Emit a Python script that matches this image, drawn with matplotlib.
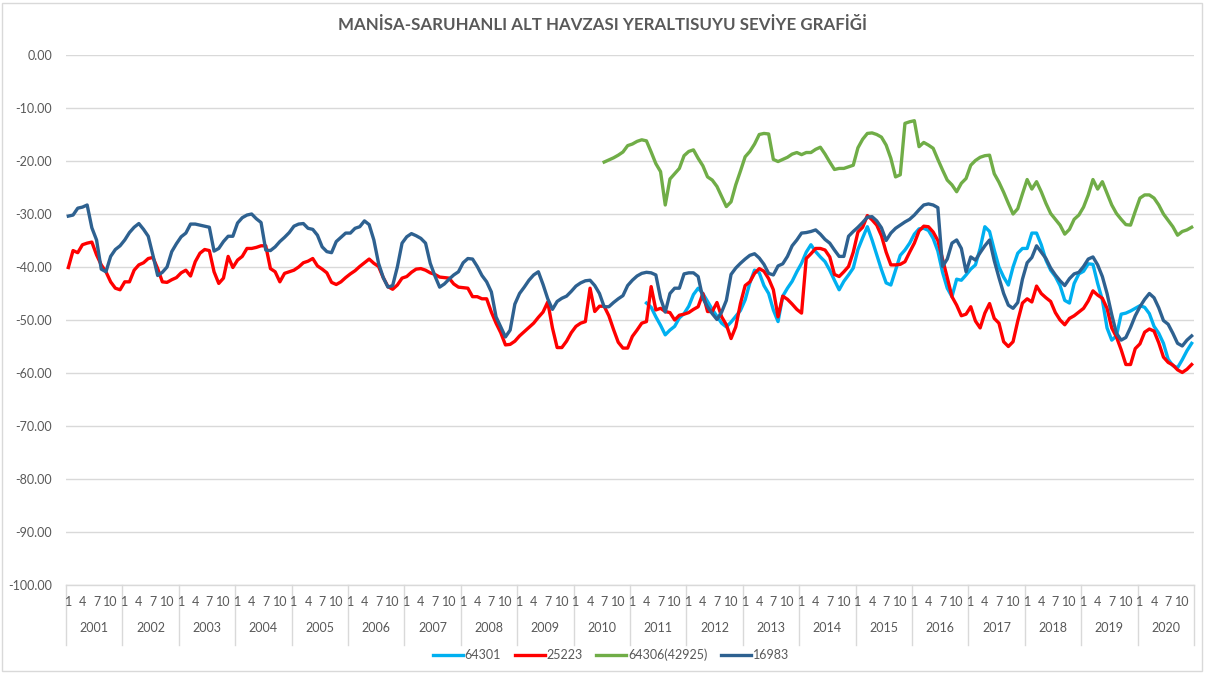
import numpy as np
import matplotlib
matplotlib.use("Agg")
import matplotlib.pyplot as plt
from matplotlib.patches import Rectangle
import matplotlib.transforms as mtransforms

plt.rcParams['font.family'] = ['Lato', 'DejaVu Sans']

title = "MANİSA-SARUHANLI ALT HAVZASI YERALTISUYU SEVİYE GRAFİĞİ"
years = list(range(2001, 2021))
month_ticks = [0, 3, 6, 9]
month_labels = ['1', '4', '7', '10']
y_ticks = [0, -10, -20, -30, -40, -50, -60, -70, -80, -90, -100]

# monthly levels, Jan 2001 .. Dec 2020
w16983 = [
    -30.4, -30.2, -28.9, -28.7, -28.3, -32.6, -34.9, -40.4, -40.9, -38.0, -36.7, -36.0,  # 2001
    -34.9, -33.5, -32.5, -31.8, -32.9, -34.2, -37.8, -41.6, -41.0, -40.0, -37.1, -35.6,  # 2002
    -34.3, -33.6, -31.9, -31.9, -32.1, -32.3, -32.5, -37.0, -36.5, -35.2, -34.2, -34.2,  # 2003
    -31.7, -30.7, -30.2, -30.0, -30.9, -31.6, -36.8, -36.9, -36.2, -35.2, -34.4, -33.5,  # 2004
    -32.3, -31.9, -31.8, -32.7, -32.9, -34.0, -36.2, -37.1, -37.3, -35.2, -34.4, -33.6,  # 2005
    -33.6, -32.7, -32.4, -31.3, -32.0, -34.9, -39.3, -42.0, -43.8, -43.5, -40.0, -35.5,  # 2006
    -34.3, -33.7, -34.1, -34.6, -35.5, -39.3, -41.7, -43.8, -43.2, -42.3, -41.5, -40.9,  # 2007
    -39.2, -38.4, -38.5, -39.9, -41.6, -42.8, -44.7, -49.4, -51.3, -53.2, -51.9, -47.0,  # 2008
    -45.0, -43.8, -42.5, -41.5, -40.9, -43.3, -46.0, -48.0, -46.5, -45.9, -45.5, -44.6,  # 2009
    -43.6, -43.0, -42.6, -42.5, -43.5, -45.0, -47.5, -47.5, -46.7, -46.0, -45.4, -43.5,  # 2010
    -42.5, -41.7, -41.2, -41.0, -41.1, -41.5, -45.9, -48.5, -45.0, -44.0, -44.0, -41.3,  # 2011
    -41.1, -41.1, -41.8, -45.9, -47.5, -48.8, -49.9, -48.5, -46.3, -41.4, -40.2, -39.3,  # 2012
    -38.5, -37.8, -37.5, -38.3, -39.5, -41.2, -41.5, -39.8, -39.4, -38.0, -36.0, -34.9,  # 2013
    -33.6, -33.5, -33.3, -33.0, -33.8, -34.8, -35.5, -36.8, -38.0, -38.0, -34.2, -33.3,  # 2014
    -32.5, -31.6, -30.6, -30.5, -31.3, -32.6, -35.0, -33.6, -32.7, -32.1, -31.5, -31.0,  # 2015
    -30.2, -29.2, -28.3, -28.1, -28.3, -28.8, -39.9, -38.5, -35.5, -34.9, -36.5, -40.9,  # 2016
    -38.1, -38.7, -37.3, -36.0, -34.9, -38.8, -42.0, -45.0, -47.2, -47.8, -46.7, -42.3,  # 2017
    -39.2, -38.2, -36.0, -37.2, -38.4, -40.2, -41.5, -42.6, -43.5, -42.2, -41.3, -41.0,  # 2018
    -39.9, -38.5, -38.1, -39.6, -41.8, -45.0, -49.0, -52.5, -53.8, -53.3, -51.4, -49.2,  # 2019
    -47.5, -46.1, -45.0, -45.8, -47.7, -50.1, -50.8, -52.5, -54.4, -54.9, -53.8, -53.0,  # 2020
]

w25223 = [
    -40.1, -36.9, -37.3, -35.8, -35.5, -35.3, -37.7, -39.6, -40.9, -42.8, -44.0, -44.3,  # 2001
    -42.8, -42.8, -40.6, -39.6, -39.2, -38.4, -38.2, -40.3, -42.8, -42.9, -42.4, -42.0,  # 2002
    -41.1, -40.6, -41.7, -39.0, -37.4, -36.7, -36.9, -40.9, -43.1, -42.1, -38.0, -40.1,  # 2003
    -38.7, -38.0, -36.5, -36.5, -36.3, -36.0, -36.0, -40.3, -40.9, -42.8, -41.2, -40.9,  # 2004
    -40.6, -40.0, -39.2, -38.9, -38.4, -39.8, -40.4, -41.1, -42.9, -43.3, -42.8, -42.0,  # 2005
    -41.3, -40.7, -39.9, -39.2, -38.5, -39.3, -39.9, -42.0, -43.7, -44.2, -43.4, -42.1,  # 2006
    -41.8, -41.0, -40.4, -40.3, -40.6, -41.1, -41.4, -41.9, -42.0, -42.1, -43.2, -43.8,  # 2007
    -43.9, -44.0, -45.6, -45.6, -46.0, -46.0, -48.5, -50.6, -52.4, -54.7, -54.6, -54.0,  # 2008
    -53.0, -52.2, -51.4, -50.6, -49.5, -48.5, -46.6, -51.5, -55.2, -55.2, -54.0, -52.4,  # 2009
    -51.2, -50.6, -50.3, -44.0, -48.4, -47.4, -47.4, -49.2, -51.8, -54.2, -55.3, -55.3,  # 2010
    -53.1, -51.9, -50.6, -50.3, -43.7, -48.1, -47.8, -48.4, -48.6, -50.0, -49.1, -48.9,  # 2011
    -48.6, -48.0, -47.5, -45.0, -48.4, -48.4, -46.7, -49.4, -50.9, -53.5, -51.3, -46.9,  # 2012
    -43.5, -42.8, -41.2, -40.3, -40.8, -42.2, -44.3, -49.4, -45.5, -46.1, -47.0, -48.0,  # 2013
    -48.7, -38.4, -37.5, -36.5, -36.5, -36.8, -38.1, -41.4, -41.8, -40.9, -39.9, -37.2,  # 2014
    -33.4, -32.5, -30.3, -31.1, -32.1, -34.1, -37.2, -39.6, -39.6, -39.5, -39.0, -37.2,  # 2015
    -35.5, -33.2, -32.3, -32.4, -33.4, -35.0, -38.5, -42.0, -45.6, -47.2, -49.2, -48.9,  # 2016
    -47.5, -50.2, -51.5, -48.7, -46.9, -49.7, -50.6, -54.1, -55.0, -54.1, -50.2, -46.8,  # 2017
    -46.0, -46.6, -43.6, -45.0, -45.8, -46.5, -48.6, -50.0, -50.9, -49.7, -49.2, -48.5,  # 2018
    -47.8, -46.4, -44.5, -45.3, -45.9, -47.8, -51.5, -53.2, -55.6, -58.4, -58.4, -55.4,  # 2019
    -54.5, -52.3, -51.7, -52.1, -54.3, -57.0, -58.0, -58.5, -59.4, -59.9, -59.3, -58.4,  # 2020
]

# 64301 starts Apr 2011
w64301_start = 123
w64301 = [
    -46.8, -47.6, -49.4, -51.0, -52.8, -51.9, -51.2, -49.6, -48.8,  # 2011
    -47.4, -45.2, -44.0, -45.0, -46.5, -48.0, -49.3, -50.6, -51.3, -50.4, -49.3, -48.2,  # 2012
    -46.2, -43.0, -40.6, -41.1, -43.5, -45.0, -48.1, -50.3, -45.5, -44.0, -42.7, -40.9,  # 2013
    -39.3, -37.2, -35.8, -37.1, -38.1, -39.0, -40.6, -42.5, -44.3, -42.7, -41.5, -40.2,  # 2014
    -36.7, -34.5, -32.4, -34.9, -37.7, -40.5, -43.0, -43.4, -40.6, -37.8, -36.8, -35.5,  # 2015
    -33.8, -32.8, -32.7, -33.1, -34.6, -37.0, -41.0, -44.0, -45.6, -42.3, -42.5, -41.5,  # 2016
    -40.4, -39.6, -36.5, -32.4, -33.3, -36.8, -40.0, -41.9, -43.4, -40.0, -37.4, -36.5,  # 2017
    -36.5, -33.6, -33.6, -35.8, -38.7, -40.6, -41.8, -43.5, -46.3, -46.8, -43.1, -41.3,  # 2018
    -40.8, -39.4, -39.5, -43.1, -46.2, -51.5, -53.8, -53.0, -48.9, -48.7, -48.3, -47.8,  # 2019
    -47.3, -47.6, -48.8, -51.2, -52.5, -54.4, -57.4, -58.6, -59.0, -57.5, -55.8, -54.4,  # 2020
]

# 64306(42925) starts Jul 2010
w64306_start = 114
w64306 = [
    -20.2, -19.8, -19.4, -18.9, -18.3, -17.1,  # 2010
    -16.8, -16.3, -16.0, -16.2, -18.3, -20.5, -22.0, -28.3, -23.4, -22.4, -21.4, -19.0,  # 2011
    -18.2, -17.9, -19.5, -20.9, -23.0, -23.6, -24.8, -26.7, -28.6, -27.7, -24.5, -21.9,  # 2012
    -19.2, -18.2, -16.8, -15.0, -14.8, -14.9, -19.7, -20.1, -19.7, -19.3, -18.7, -18.4,  # 2013
    -18.8, -18.4, -18.4, -17.8, -17.4, -18.7, -20.2, -21.6, -21.4, -21.4, -21.1, -20.8,  # 2014
    -17.5, -15.9, -14.8, -14.7, -15.0, -15.5, -17.0, -19.5, -23.0, -22.6, -12.9, -12.6,  # 2015
    -12.4, -17.3, -16.5, -17.0, -17.6, -19.7, -21.7, -23.6, -24.5, -25.8, -24.2, -23.3,  # 2016
    -20.8, -19.9, -19.3, -19.0, -18.9, -22.4, -24.0, -25.9, -28.0, -30.0, -29.0, -26.2,  # 2017
    -23.5, -25.3, -23.9, -25.8, -28.0, -29.9, -31.0, -32.1, -33.8, -32.9, -31.0, -30.2,  # 2018
    -28.7, -26.4, -23.5, -25.3, -23.9, -26.1, -28.3, -29.9, -31.0, -32.0, -32.1, -29.5,  # 2019
    -27.0, -26.4, -26.4, -27.0, -28.3, -30.0, -31.2, -32.4, -34.0, -33.3, -33.0, -32.5,  # 2020
]

n = len(years) * 12
x = np.arange(n)


def pad(vals, start):
    out = np.full(n, np.nan)
    out[start:start + len(vals)] = vals
    return out


series = [
    ('64301', pad(w64301, w64301_start), '#00B0F0'),
    ('25223', pad(w25223, 0), '#FF0000'),
    ('64306(42925)', pad(w64306, w64306_start), '#70AD47'),
    ('16983', pad(w16983, 0), '#2E6190'),
]

fig = plt.figure(figsize=(12.06, 6.73), dpi=100)
ax = fig.add_axes([66 / 1206, 1 - 585 / 673, 1128 / 1206, 530 / 673])

for name, vals, col in series:
    ax.plot(x, vals, color=col, lw=2.4, label=name, solid_joinstyle='round')

ax.set_xlim(-0.5, n - 0.5)
ax.set_ylim(-100, 0)
ax.set_yticks(y_ticks)
ax.set_yticklabels(['%.2f' % v for v in y_ticks], fontsize=9, color='#595959')
ax.yaxis.grid(True, color='#d9d9d9', lw=1)
ax.set_axisbelow(True)
ax.tick_params(axis='y', length=0, pad=10)
ax.set_xticks([])
for s in ['left', 'right', 'top']:
    ax.spines[s].set_visible(False)
ax.spines['bottom'].set_color('#d9d9d9')
ax.spines['bottom'].set_linewidth(1)

# two-level category axis
trans = mtransforms.blended_transform_factory(ax.transData, ax.transAxes)
for k, yr in enumerate(years):
    for m, lab in zip(month_ticks, month_labels):
        ax.text(12 * k + m, -0.032, lab, transform=trans, ha='center', va='center',
                fontsize=9, color='#595959')
    ax.text(12 * k + 5.5, -0.081, str(yr), transform=trans, ha='center', va='center',
            fontsize=9, color='#595959')
for k in range(len(years) + 1):
    ax.plot([12 * k - 0.5] * 2, [0, -0.113], transform=trans, color='#d9d9d9',
            lw=1, clip_on=False)

fig.text(0.5, 0.963, title, ha='center', va='center', fontsize=12.2,
         fontweight='bold', color='#595959')

fig.legend(loc='center', bbox_to_anchor=(611 / 1206, 1 - 655 / 673), ncol=4,
           frameon=False, fontsize=9, handlelength=2.4, handletextpad=0.15,
           columnspacing=1.1, labelcolor='#595959')

fig.patches.append(Rectangle((0.002, 0.003), 0.995, 0.993, transform=fig.transFigure,
                             fill=False, edgecolor='#d9d9d9', lw=1))

fig.savefig('out.png', dpi=100)
